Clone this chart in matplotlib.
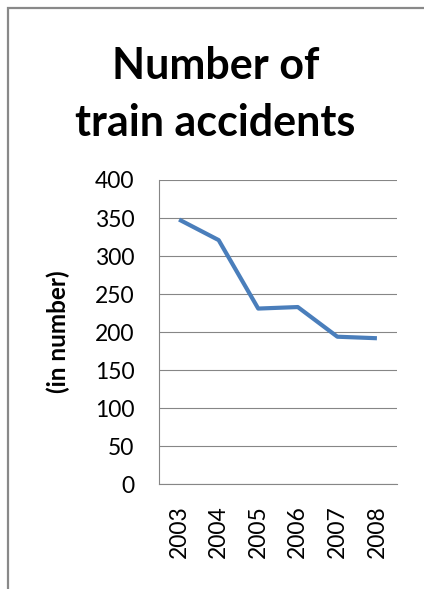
import numpy as np
import matplotlib
matplotlib.use("Agg")
import matplotlib.pyplot as plt
from matplotlib.lines import Line2D

years = ["2003", "2004", "2005", "2006", "2007", "2008"]
accidents = [348, 321, 231, 233, 194, 192]
yticks = [0, 50, 100, 150, 200, 250, 300, 350, 400]

plt.rcParams['font.family'] = ['Lato', 'DejaVu Sans']

W, H = 424, 589
fig = plt.figure(figsize=(W / 100, H / 100), dpi=100)

# outer frame: only the top and left edges are inside the screenshot
fx, fy = 8 / W, 1 - 8 / H
fig.add_artist(Line2D([fx, fx, 1.0], [0.0, fy, fy], transform=fig.transFigure,
                      color='#898989', linewidth=1.6, solid_joinstyle='miter'))

ax = fig.add_axes([159.3 / W, 1 - 484.3 / H, 237.4 / W, 304.3 / H])
x = np.arange(len(years))
ax.plot(x, accidents, color='#4A7EBB', linewidth=3, solid_capstyle='butt', solid_joinstyle='round')

ax.set_xlim(-0.5, len(years) - 0.5)
ax.set_ylim(0, 400)
ax.set_yticks(yticks)
ax.set_xticks(x)
ax.set_xticklabels(years, rotation=90)
ax.yaxis.grid(True, color='#868686', linewidth=0.8)
ax.set_axisbelow(True)
for s in ['top', 'right']:
    ax.spines[s].set_visible(False)
for s in ['left', 'bottom']:
    ax.spines[s].set_color('#868686')
    ax.spines[s].set_linewidth(0.8)
ax.tick_params(axis='both', length=0, labelsize=16.5, colors='#000000')
ax.tick_params(axis='y', pad=18)
ax.tick_params(axis='x', pad=15)

fig.text(58 / W, 1 - 332 / H, "(in number)", rotation=90, ha='center', va='center',
         fontsize=17.5, fontweight='bold')

fig.text(0.508, 1 - 79 / H, "Number of", ha='center', va='baseline', fontsize=31, fontweight='bold')
fig.text(0.508, 1 - 136 / H, "train accidents", ha='center', va='baseline', fontsize=31, fontweight='bold')

fig.savefig("out.png", dpi=100)
